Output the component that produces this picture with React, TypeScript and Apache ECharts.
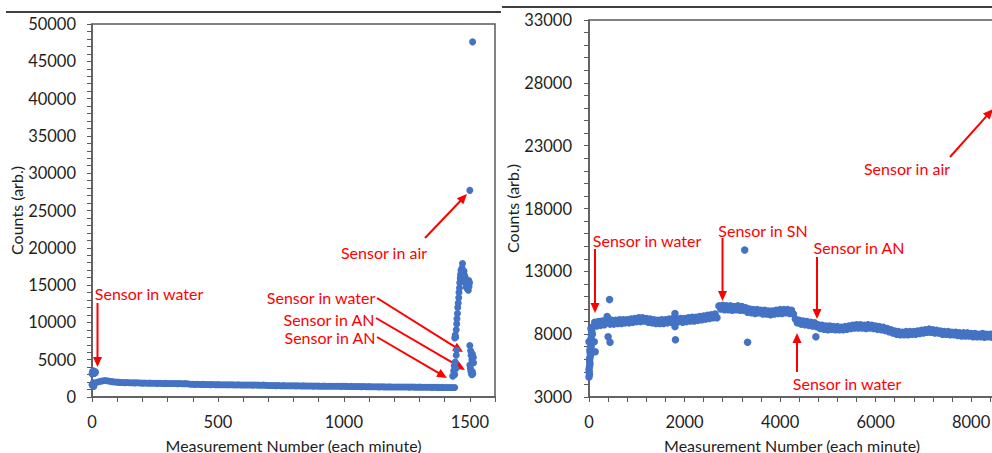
import React, { useEffect, useRef } from 'react';
import * as echarts from 'echarts';

const FONT = 'Lato, "Open Sans", sans-serif';
const BLUE = '#4472C4';
const RED = '#FF0000';
const AXIS = '#5a5a5a';
const TXT = '#1e1e1e';

// ---------- Left panel data ----------
const leftXLabels = [0, 500, 1000, 1500];
const leftYLabels = [0, 5000, 10000, 15000, 20000, 25000, 30000, 35000, 40000, 45000, 50000];
const leftBaseStep = 10; // one sample every 10 measurements (0 .. 1440)
const leftBaseCounts = [
  1650, 1850, 1980, 2080, 2150, 2200, 2170, 2100, 2060, 2010,
  1990, 1960, 1940, 1930, 1950, 1910, 1900, 1890, 1910, 1880,
  1860, 1870, 1850, 1860, 1840, 1850, 1830, 1840, 1820, 1830,
  1810, 1820, 1800, 1810, 1790, 1800, 1780, 1790, 1770, 1720,
  1700, 1690, 1700, 1680, 1690, 1670, 1680, 1660, 1670, 1650,
  1660, 1650, 1640, 1650, 1630, 1640, 1630, 1620, 1630, 1610,
  1620, 1610, 1600, 1610, 1590, 1600, 1590, 1580, 1590, 1570,
  1540, 1530, 1540, 1520, 1530, 1510, 1520, 1510, 1500, 1510,
  1500, 1490, 1500, 1480, 1490, 1480, 1470, 1480, 1460, 1470,
  1460, 1450, 1460, 1440, 1450, 1440, 1430, 1440, 1430, 1420,
  1430, 1420, 1410, 1420, 1400, 1410, 1400, 1390, 1400, 1380,
  1390, 1380, 1370, 1380, 1360, 1370, 1360, 1350, 1360, 1340,
  1350, 1340, 1350, 1330, 1340, 1330, 1320, 1330, 1320, 1310,
  1320, 1310, 1300, 1310, 1300, 1290, 1300, 1290, 1280, 1290,
  1280, 1270, 1280, 1270, 1280,
];
const leftExtraPoints: [number, number][] = [
  [0, 3100], [2, 3400], [4, 3250], [6, 3500], [8, 3300], [10, 3150], [12, 3400], [14, 3300],
  [3, 1500], [5, 1900], [7, 1400],
  [1432, 2800], [1436, 3500], [1438, 4200], [1440, 3000], [1442, 4700], [1444, 3800],
  [1446, 5600], [1448, 6300], [1440, 7900], [1442, 8300], [1444, 8000],
  [1446, 9000], [1448, 9800], [1449, 10500], [1451, 11200], [1452, 12000], [1454, 12600],
  [1456, 13300], [1457, 14000], [1459, 14600], [1460, 15300], [1462, 15900], [1463, 16400],
  [1465, 17000], [1467, 16200], [1468, 15600], [1469, 17300], [1471, 17900], [1472, 16800],
  [1473, 16000], [1475, 16500], [1476, 15700], [1477, 16900], [1479, 16300], [1480, 15500],
  [1482, 16000], [1484, 15200], [1486, 14700], [1488, 15400], [1490, 14500], [1492, 15100],
  [1494, 14300], [1496, 15600], [1497, 14800], [1499, 15300],
  [1500, 27700], [1511, 47600],
  [1500, 6900], [1503, 6200], [1505, 5600], [1508, 5000], [1510, 5800], [1512, 5400], [1514, 5300],
  [1500, 4300], [1502, 3900], [1504, 3500], [1506, 3200], [1508, 3000], [1510, 3400], [1512, 3100], [1515, 4600],
];

// ---------- Right panel data ----------
const rightXLabels = [0, 2000, 4000, 6000, 8000];
const rightYLabels = [3000, 8000, 13000, 18000, 23000, 28000, 33000];
const rightBaseStep = 40; // one sample every 40 measurements (0 .. 8480)
const rightBaseCounts = [
  7400, 8450, 8600, 8950, 8650, 9000, 8700, 9050, 8750, 9000,
  9250, 8800, 9100, 8800, 9100, 8850, 9150, 8850, 9150, 8900,
  9150, 8900, 9200, 8950, 9250, 9000, 9300, 9000, 9300, 9050,
  9250, 8950, 9200, 8900, 9150, 8850, 9100, 8850, 9150, 8850,
  9150, 8900, 9200, 8950, 9250, 8950, 9200, 9000, 9250, 8950,
  9250, 9000, 9300, 9050, 9350, 9050, 9350, 9100, 9400, 9150,
  9450, 9200, 9500, 9250, 9550, 9300, 9600, 9300, 10250, 10000,
  10300, 9950, 10250, 9950, 10250, 9900, 10200, 9950, 10250, 9900,
  10200, 9900, 10100, 9750, 10000, 9700, 9950, 9650, 9950, 9700,
  9900, 9600, 9900, 9600, 9850, 9550, 9850, 9600, 9900, 9650,
  9950, 9650, 9950, 9700, 9950, 9650, 9900, 9600, 9200, 8900,
  9100, 8800, 9050, 8750, 9000, 8700, 8950, 8650, 8900, 8600,
  8750, 8450, 8700, 8400, 8650, 8350, 8650, 8400, 8600, 8350,
  8600, 8350, 8550, 8350, 8600, 8400, 8650, 8450, 8700, 8500,
  8750, 8500, 8750, 8500, 8700, 8450, 8750, 8500, 8700, 8450,
  8650, 8400, 8600, 8350, 8550, 8300, 8450, 8200, 8350, 8100,
  8250, 8000, 8200, 7950, 8150, 7950, 8200, 7950, 8200, 8000,
  8200, 8000, 8250, 8050, 8300, 8100, 8350, 8150, 8400, 8150,
  8350, 8100, 8300, 8100, 8250, 8000, 8200, 8000, 8200, 7950,
  8150, 7950, 8150, 7900, 8100, 7850, 8100, 7850, 8100, 7850,
  8050, 7800, 8050, 7800, 8000, 7800, 8050, 7750, 8000, 7800,
  8000, 7750, 7950,
];
const rightExtraPoints: [number, number][] = [
  [0, 4600], [0, 5200], [5, 5000], [8, 6000], [10, 4800], [10, 5400], [15, 5800], [18, 6700],
  [20, 6100], [20, 5600], [25, 6500], [30, 6900], [30, 6300], [35, 7200], [40, 7600],
  [45, 7000], [50, 7900], [55, 7500], [60, 8200], [70, 8000],
  [110, 7400], [130, 6600],
  [380, 9400], [400, 7800], [430, 10750], [440, 7350],
  [1800, 9650], [1800, 8600], [1810, 7550],
  [3260, 14700], [3320, 7350],
  [4750, 7800],
];

const leftPoints = [
  ...leftBaseCounts.map((v, i) => [i * leftBaseStep, v]),
  ...leftExtraPoints,
];
const rightPoints = [
  ...rightBaseCounts.map((v, i) => [i * rightBaseStep, v]),
  ...rightExtraPoints,
];

// ---------- Annotations (pixel positions of the callouts) ----------
type Note = { text: string; x: number; y: number; tail: [number, number]; tip: [number, number] };
const notes: Note[] = [
  { text: 'Sensor in air', x: 384, y: 252, tail: [425, 238], tip: [467, 194] },
  { text: 'Sensor in water', x: 149, y: 293, tail: [97.5, 303], tip: [97.5, 367] },
  { text: 'Sensor in water', x: 321, y: 297, tail: [377, 298], tip: [463, 352] },
  { text: 'Sensor in AN', x: 329, y: 319, tail: [376, 318], tip: [465, 370] },
  { text: 'Sensor in AN', x: 330, y: 337, tail: [377, 337], tip: [447, 378] },
  { text: 'Sensor in air', x: 907, y: 168, tail: [950, 157], tip: [993, 109] },
  { text: 'Sensor in water', x: 647, y: 240, tail: [595, 249], tip: [595, 313] },
  { text: 'Sensor in SN', x: 763, y: 230, tail: [722.5, 238], tip: [722.5, 301] },
  { text: 'Sensor in AN', x: 859, y: 247, tail: [817, 257], tip: [817, 319] },
  { text: 'Sensor in water', x: 847, y: 383, tail: [797, 372], tip: [797, 333] },
];

function arrow(tail: [number, number], tip: [number, number]) {
  const dx = tip[0] - tail[0];
  const dy = tip[1] - tail[1];
  const len = Math.sqrt(dx * dx + dy * dy);
  const ux = dx / len;
  const uy = dy / len;
  const hl = 10;
  const hw = 4.5;
  const bx = tip[0] - ux * hl;
  const by = tip[1] - uy * hl;
  return [
    {
      type: 'line',
      shape: { x1: tail[0], y1: tail[1], x2: bx + ux * 1, y2: by + uy * 1 },
      style: { stroke: RED, lineWidth: 2 },
      silent: true,
    },
    {
      type: 'polygon',
      shape: {
        points: [
          [tip[0], tip[1]],
          [bx - uy * hw, by + ux * hw],
          [bx + uy * hw, by - ux * hw],
        ],
      },
      style: { fill: RED },
      silent: true,
    },
  ];
}

function valueAxis(opts: any) {
  const { labels, name, nameGap, margin, ...rest } = opts;
  return {
    type: 'value',
    ...rest,
    axisLine: { show: true, onZero: false, lineStyle: { color: AXIS, width: 1.5 } },
    axisTick: { show: true, inside: false, length: 5, lineStyle: { color: AXIS, width: 1 } },
    axisLabel: {
      color: TXT,
      fontFamily: FONT,
      fontSize: 16.5,
      margin,
      formatter: (v: number) => (labels.includes(v) ? String(v) : ''),
    },
    splitLine: { show: false },
    name,
    nameLocation: 'middle',
    nameGap,
    nameTextStyle: { color: TXT, fontFamily: FONT, fontSize: 16 },
  };
}

export default function App() {
  const ref = useRef<HTMLDivElement>(null);
  useEffect(() => {
    const el = ref.current;
    if (!el) return;
    const chart = echarts.init(el, undefined, { renderer: 'svg' });
    const graphics: any[] = [
      { type: 'line', shape: { x1: 6, y1: 12, x2: 501, y2: 12 }, style: { stroke: '#000', lineWidth: 1.5 }, silent: true },
      { type: 'line', shape: { x1: 502, y1: 7, x2: 992, y2: 7 }, style: { stroke: '#000', lineWidth: 1.5 }, silent: true },
    ];
    notes.forEach((n) => {
      graphics.push({
        type: 'text',
        x: n.x,
        y: n.y,
        silent: true,
        style: { text: n.text, fill: RED, font: `16px ${FONT}`, align: 'center', verticalAlign: 'middle' },
      });
      graphics.push(...arrow(n.tail, n.tip));
    });
    chart.setOption({
      animation: false,
      backgroundColor: '#ffffff',
      grid: [
        { left: 92, top: 24, width: 403, height: 373, show: true, borderColor: AXIS, borderWidth: 1.5, containLabel: false, outerBoundsMode: 'none' },
        { left: 589, top: 20, width: 406, height: 377, show: true, borderColor: AXIS, borderWidth: 1.5, containLabel: false, outerBoundsMode: 'none' },
      ],
      xAxis: [
        valueAxis({ gridIndex: 0, min: 0, max: 1600, interval: 100, labels: leftXLabels, name: 'Measurement Number (each minute)', nameGap: 40, margin: 16 }),
        valueAxis({ gridIndex: 1, min: 0, max: 8500, interval: 400, labels: rightXLabels, name: 'Measurement Number (each minute)', nameGap: 40, margin: 16 }),
      ],
      yAxis: [
        valueAxis({ gridIndex: 0, min: 0, max: 50000, interval: 1000, labels: leftYLabels, name: 'Counts (arb.)', nameGap: 66, margin: 16 }),
        valueAxis({ gridIndex: 1, min: 3000, max: 33000, interval: 1000, labels: rightYLabels, name: 'Counts (arb.)', nameGap: 66, margin: 17 }),
      ],
      series: [
        {
          type: 'scatter',
          xAxisIndex: 0,
          yAxisIndex: 0,
          data: leftPoints,
          symbolSize: 7,
          itemStyle: { color: BLUE, opacity: 1 },
          silent: true,
        },
        {
          type: 'scatter',
          xAxisIndex: 1,
          yAxisIndex: 1,
          data: rightPoints,
          symbolSize: 7.5,
          itemStyle: { color: BLUE, opacity: 1 },
          silent: true,
        },
      ],
      graphic: graphics,
    });
    return () => chart.dispose();
  }, []);
  return (
    <div
      ref={ref}
      style={{ position: 'absolute', left: 0, top: 0, width: 992, height: 453, background: '#fff', overflow: 'hidden' }}
    />
  );
}
